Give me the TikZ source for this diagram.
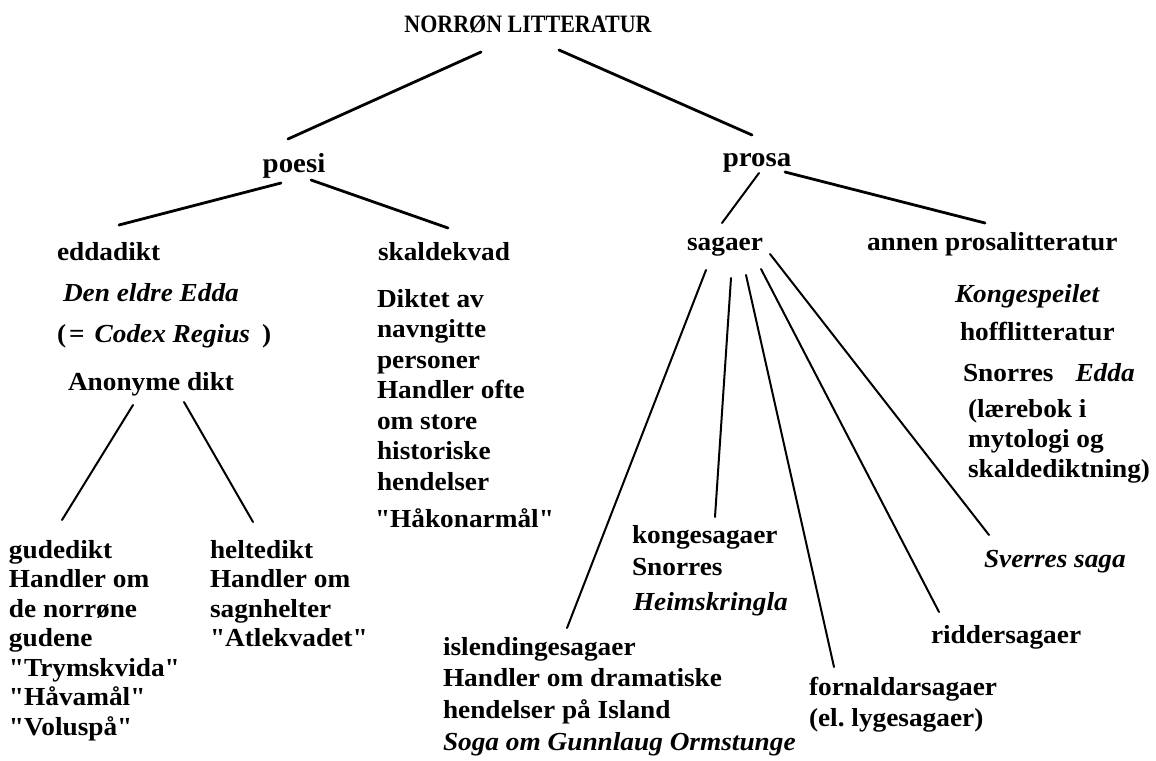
\documentclass[tikz,border=0pt]{standalone}
\usepackage{fontspec}
\setmainfont{Liberation Serif}[Ligatures=TeXOff, FakeStretch=1.05]
\newfontfamily\titlefont{Liberation Serif}[FakeStretch=0.88]
\usetikzlibrary{calc}
\frenchspacing
\tikzset{
  txt/.style={inner sep=0pt, outer sep=0pt, anchor=base west, align=left,
    font=\bfseries\fontsize{26}{30.5}\selectfont},
  itxt/.style={txt, font=\bfseries\itshape\fontsize{26}{30.5}\selectfont},
  bs/.style={font=\bfseries\fontsize{26}{#1}\selectfont},
  head/.style={inner sep=0pt, outer sep=0pt, anchor=base,
    font=\bfseries\fontsize{27.5}{30}\selectfont},
  thick line/.style={line width=2.8pt, line cap=round},
  thin line/.style={line width=2pt, line cap=round}
}
\begin{document}
\begin{tikzpicture}[x=1pt,y=-1pt]
\fill[white] (0,0) rectangle (1156,760);
\useasboundingbox (0,0) rectangle (1156,760);

% top levels
\node[inner sep=0pt, anchor=base, font=\titlefont\bfseries\fontsize{25}{28}\selectfont] (title) at (528,33) {NORRØN LITTERATUR};
\node[head] (poesi) at (294,172) {poesi};
\node[head] (prosa) at (757,166) {prosa};

% second level
\node[txt] (edda) at (57,260) {eddadikt};
\node[txt] (skald) at (378,260) {skaldekvad};
\node[txt, anchor=base] (sagaer) at (725,250) {sagaer};
\node[txt] (annen) at (867,250) {annen prosalitteratur};

% eddadikt column
\node[itxt] (edda1) at (63,301) {Den eldre Edda};
\node[txt] (edda2) at (57,342) {(\kern3pt=\hspace{10pt}\textit{Codex Regius}\hspace{12pt})};
\node[txt] (anon) at (68,390) {Anonyme dikt};
% multi-line nodes: base anchor = last line
\node[txt, bs=29.5] (gude) at (9,735) {gudedikt\\Handler om\\de norrøne\\gudene\\"Trymskvida"\\"Håvamål"\\"Voluspå"};
\node[txt, bs=29.5] (helte) at (210,646.5) {heltedikt\\Handler om\\sagnhelter\\"Atlekvadet"};

% skaldekvad column
\node[txt, bs=30.5] (skaldtxt) at (377,490) {Diktet av\\navngitte\\personer\\Handler ofte\\om store\\historiske\\hendelser};
\node[txt] (hakon) at (375,527) {"Håkonarmål"};

% sagaer
\node[txt, bs=32] (konge) at (632,575) {kongesagaer\\Snorres};
\node[itxt] (heim) at (633,610) {Heimskringla};
\node[txt, bs=31.5] (islend) at (443,718) {islendingesagaer\\Handler om dramatiske\\hendelser på Island};
\node[itxt] (soga) at (443,750) {Soga om Gunnlaug Ormstunge};
\node[txt, bs=31] (fornaldar) at (809,726) {fornaldarsagaer\\(el. lygesagaer)};
\node[txt] (ridder) at (931,643) {riddersagaer};
\node[itxt] (sverres) at (984,567) {Sverres saga};

% annen prosalitteratur column
\node[itxt] (kongesp) at (955,302) {Kongespeilet};
\node[txt] (hoff) at (960,340) {hofflitteratur};
\node[txt] (snedda) at (963,381) {Snorres\hspace{22pt}\textit{Edda}};
\node[txt, bs=30] (laere) at (968,477) {(lærebok i\\mytologi og\\skaldediktning)};

% connectors
\draw[thick line] ($(title.base)+(-47,19)$) -- ($(poesi.base)+(-6,-33)$);
\draw[thick line] ($(title.base)+(31,17)$) -- ($(prosa.base)+(-5,-31)$);
\draw[thick line] ($(poesi.base)+(-13,11)$) -- ($(edda.base west)+(62,-35)$);
\draw[thick line] ($(poesi.base)+(17,8)$) -- ($(skald.base west)+(70,-32)$);
\draw[thin line] ($(prosa.base)+(2,7)$) -- ($(sagaer.base)+(-3,-27)$);
\draw[thick line] ($(prosa.base)+(28,6)$) -- ($(annen.base west)+(118,-27)$);

\draw[thin line] ($(anon.base west)+(65,15)$) -- ($(gude.base west)+(53,-215)$);
\draw[thin line] ($(anon.base west)+(116,12)$) -- ($(helte.base west)+(43,-124.5)$);

\draw[thin line] ($(sagaer.base)+(-19,20)$) -- ($(islend.base west)+(124,-90)$);
\draw[thin line] ($(sagaer.base)+(6,28)$) -- ($(konge.base west)+(83,-58)$);
\draw[thin line] ($(sagaer.base)+(21,25)$) -- ($(fornaldar.base west)+(25,-59)$);
\draw[thin line] ($(sagaer.base)+(36,19)$) -- ($(ridder.base west)+(8,-31)$);
\draw[thin line] ($(sagaer.base)+(45,4)$) -- ($(sverres.base west)+(5,-32)$);
\end{tikzpicture}
\end{document}
